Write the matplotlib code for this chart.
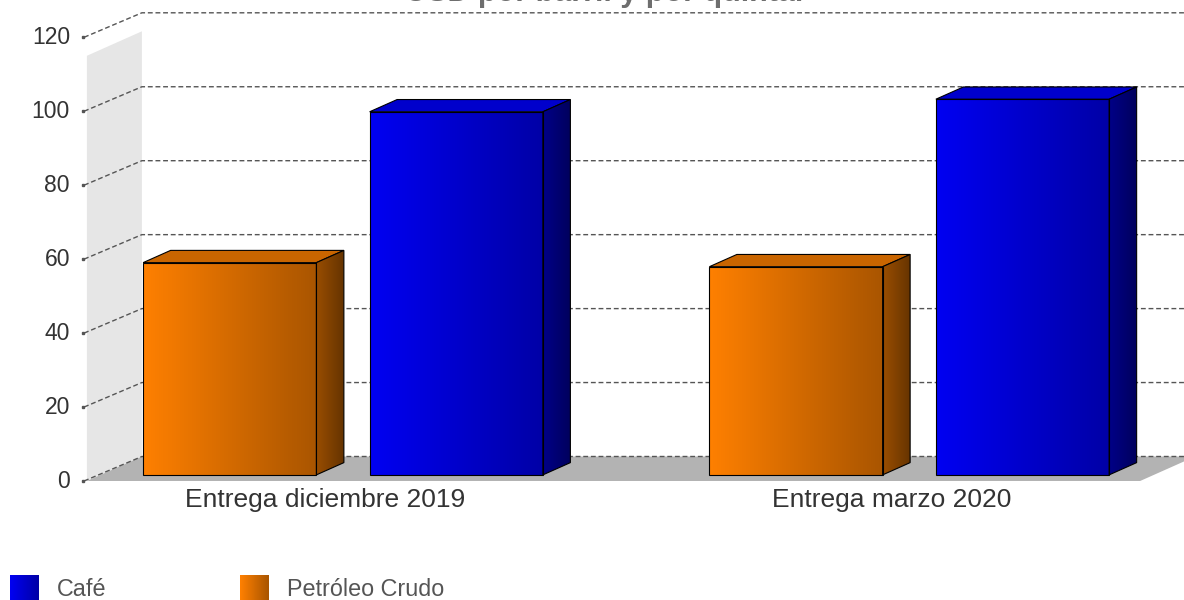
import numpy as np
import matplotlib
matplotlib.use("Agg")
import matplotlib.pyplot as plt
from matplotlib.patches import Polygon
from matplotlib.colors import LinearSegmentedColormap

plt.rcParams['font.family'] = ['Liberation Sans', 'DejaVu Sans']

# data
categories = ["Entrega diciembre 2019", "Entrega marzo 2020"]
series = ["Petróleo Crudo", "Café"]
values = {
    "Petróleo Crudo": [57.4, 56.3],
    "Café": [98.2, 101.6],
}
yticks = [0, 20, 40, 60, 80, 100, 120]
title = "USD por barril y por quintal"

# colours per series: front gradient (left, right), top, side gradient
styles = {
    "Petróleo Crudo": dict(front=("#ff8000", "#a95500"), top="#c96500",
                           side=("#9a4e00", "#653300")),
    "Café": dict(front=("#0000f2", "#0000a6"), top="#0000cc",
                 side=("#000088", "#00005c")),
}

W, H, DPI = 1184, 600, 100
fig = plt.figure(figsize=(W / DPI, H / DPI), dpi=DPI)
ax = fig.add_axes([0, 0, 1, 1])
ax.set_axis_off()

# pseudo-3d layout (front plane box and depth in data units)
px_per_x = 566.25
px_per_v = 3.6975
X0, X1 = -0.428, 1.432          # front plane left / right
DX, DY = 55 / px_per_x, 24.5 / px_per_v   # full depth
WALL_TOP = 115
bar_w = 0.306
offsets = {"Petróleo Crudo": -0.2, "Café": 0.2}


def gradient_poly(verts, c0, c1, z, edge=True):
    verts = np.asarray(verts)
    poly = Polygon(verts, closed=True, facecolor="none",
                   edgecolor="black" if edge else "none", lw=0.8, zorder=z + 0.1)
    ax.add_patch(poly)
    cmap = LinearSegmentedColormap.from_list("g", [c0, c1])
    im = ax.imshow(np.linspace(0, 1, 256).reshape(1, -1), cmap=cmap,
                   extent=(verts[:, 0].min(), verts[:, 0].max(),
                           verts[:, 1].min(), verts[:, 1].max()),
                   aspect="auto", interpolation="bilinear", zorder=z)
    im.set_clip_path(poly)


# side wall and floor
ax.add_patch(Polygon([(X0, 0), (X0 + DX, DY), (X0 + DX, WALL_TOP + DY), (X0, WALL_TOP)],
                     facecolor="#e6e6e6", edgecolor="none", zorder=1))
ax.add_patch(Polygon([(X0, 0), (X0 + DX, DY), (X1 + DX, DY), (X1, 0)],
                     facecolor="#b3b3b3", edgecolor="none", zorder=1))

# grid lines: diagonal over the wall, then along the back plane
for v in yticks:
    ax.plot([X0 - 0.005, X0 + DX, X1 + DX + 0.1], [v, v + DY, v + DY],
            color="#555555", lw=1, ls=(0, (3.5, 2)), zorder=2)
    ax.plot([X0 - 0.006], [v], marker="s", ms=2, color="#555555", zorder=2)
    ax.text(X0 - 0.03, v, str(v), ha="right", va="center",
            fontsize=16.5, color="#333333")

# bars, front face sits at a quarter of the depth, half deep
for gi, cat in enumerate(categories):
    for s in series:
        val = values[s][gi]
        st = styles[s]
        xl = gi + offsets[s] - bar_w / 2 + 0.25 * DX
        xr = xl + bar_w
        vb = 0.25 * DY
        vt = vb + val
        hx, hy = 0.5 * DX, 0.5 * DY
        gradient_poly([(xl, vb), (xr, vb), (xr, vt), (xl, vt)], *st["front"], z=5)
        ax.add_patch(Polygon([(xl, vt), (xr, vt), (xr + hx, vt + hy), (xl + hx, vt + hy)],
                             facecolor=st["top"], edgecolor="black", lw=0.8, zorder=5))
        gradient_poly([(xr, vb), (xr + hx, vb + hy), (xr + hx, vt + hy), (xr, vt)],
                      *st["side"], z=5)
    ax.text(gi - 0.007, -1.8, cat, ha="center", va="top", fontsize=19, color="#333333")

ax.set_xlim(-329.25 / px_per_x, (W - 329.25) / px_per_x)
ax.set_ylim(-(H - 481) / px_per_v, 481 / px_per_v)

fig.text(604 / W, 1 - 1 / H, title, ha="center", va="baseline",
         fontsize=22, fontweight="bold", color="#6e6e6e")

# legend
leg = [("Café", 10, 57), ("Petróleo Crudo", 240, 287)]
for name, bx, tx in leg:
    lax = fig.add_axes([bx / W, 0, 29 / W, 25 / H])
    lax.set_axis_off()
    c0, c1 = styles[name]["front"]
    lax.imshow(np.linspace(0, 1, 64).reshape(1, -1),
               cmap=LinearSegmentedColormap.from_list("l", [c0, c1]),
               aspect="auto", interpolation="bilinear")
    fig.text(tx / W, 1 - 589 / H, name, ha="left", va="center",
             fontsize=16.8, color="#555555")

fig.savefig("out.png", dpi=DPI)
